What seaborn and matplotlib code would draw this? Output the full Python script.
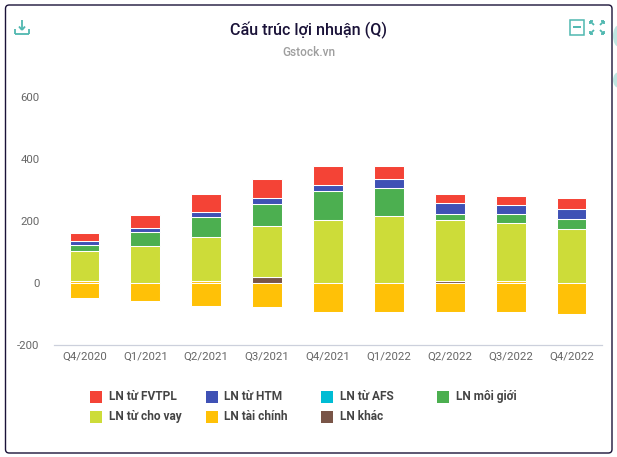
import numpy as np
import matplotlib
matplotlib.use("Agg")
import matplotlib.pyplot as plt
from matplotlib.patches import FancyBboxPatch, Rectangle, Ellipse
from matplotlib.lines import Line2D
import seaborn as sns

quarters = ["Q4/2020", "Q1/2021", "Q2/2021", "Q3/2021", "Q4/2021",
            "Q1/2022", "Q2/2022", "Q3/2022", "Q4/2022"]
ln_khac = [0, 0, 0, 18, 0, 0, 5, 0, 0]
ln_tai_chinh_duong = [5, 0, 5, 0, 0, 0, 0, 5, 0]
ln_cho_vay = [98, 120, 141, 164, 204, 214, 196, 188, 174]
ln_moi_gioi = [18, 44, 67, 73, 93, 92, 21, 29, 32]
ln_afs = [0, 0, 0, 0, 0, 0, 0, 0, 0]
ln_htm = [14, 13, 16, 19, 19, 29, 36, 29, 33]
ln_fvtpl = [27, 40, 56, 62, 62, 43, 30, 28, 33]
ln_tai_chinh_am = [-49, -60, -76, -80, -96, -96, -96, -96, -102]
y_ticks = [-200, 0, 200, 400, 600]

RED, BLUE, CYAN, GREEN = "#f44336", "#3f51b5", "#00bcd4", "#4caf50"
LIME, YELLOW, BROWN = "#cddc39", "#ffc107", "#795548"
TEAL = "#4fb8b0"

sns.set_theme(style="white")
plt.rcParams["font.family"] = ["Roboto", "DejaVu Sans"]
plt.rcParams["axes.unicode_minus"] = False

W, H = 617, 457
fig = plt.figure(figsize=(W / 100, H / 100), dpi=100, facecolor="white")

def fx(x):
    return x / W

def fy(y):
    return 1 - y / H

ax = fig.add_axes([fx(54), fy(344.5), (602 - 54) / W, (344.5 - 97) / H])
ax.set_facecolor("none")

stack = [(ln_khac, BROWN), (ln_tai_chinh_duong, YELLOW), (ln_cho_vay, LIME),
         (ln_moi_gioi, GREEN), (ln_afs, CYAN), (ln_htm, BLUE), (ln_fvtpl, RED)]
bottom = np.zeros(len(quarters))
for values, colour in stack:
    vals = np.array(values, dtype=float)
    if vals.any():
        sns.barplot(x=quarters, y=vals, bottom=bottom, color=colour, saturation=1,
                    width=0.49, edgecolor="white", linewidth=0.75, ax=ax)
    bottom = bottom + vals
sns.barplot(x=quarters, y=ln_tai_chinh_am, color=YELLOW, saturation=1,
            width=0.49, edgecolor="white", linewidth=0.75, ax=ax)

ax.set_xlim(-0.5, len(quarters) - 0.5)
ax.set_ylim(-200, 600)
ax.set_yticks(y_ticks)
ax.set_xlabel("")
ax.set_ylabel("")
for s in ["top", "left", "right"]:
    ax.spines[s].set_visible(False)
ax.spines["bottom"].set_color("#ccd0dc")
ax.spines["bottom"].set_linewidth(0.9)
ax.tick_params(axis="both", length=0, labelsize=8.2, labelcolor="#666666")
ax.tick_params(axis="x", pad=5.5)
ax.tick_params(axis="y", pad=10.5)
ax.grid(False)

# frame
fig.add_artist(FancyBboxPatch((fx(5.5), fy(453)), 606.5 / W, 448 / H,
                              boxstyle="round,pad=0,rounding_size=0.006",
                              transform=fig.transFigure, fill=False,
                              edgecolor="#1a1238", linewidth=1.0, mutation_aspect=W / H))
# edge circles outside the frame
for cy, rh in [(36, 11), (80, 8)]:
    fig.add_artist(Ellipse((fx(619), fy(cy)), 12 / W, 2 * rh / H, transform=fig.transFigure,
                           facecolor="#bfe6e2", edgecolor="none"))

# titles
fig.text(fx(309), fy(30), "Cấu trúc lợi nhuận (Q)", ha="center", va="center",
         fontsize=11.6, color="#1a1238", fontweight="medium")
fig.text(fx(309), fy(52), "Gstock.vn", ha="center", va="center",
         fontsize=8.6, color="#9e9e9e", fontweight="medium")

# legend
legend_items = [("LN từ FVTPL", RED, 90, 396.5), ("LN từ HTM", BLUE, 205.5, 396.5),
                ("LN từ AFS", CYAN, 321, 396.5), ("LN môi giới", GREEN, 436.5, 396.5),
                ("LN từ cho vay", LIME, 90, 416.5), ("LN tài chính", YELLOW, 205.5, 416.5),
                ("LN khác", BROWN, 321, 416.5)]
for label, colour, x, y in legend_items:
    fig.add_artist(Rectangle((fx(x), fy(y + 6)), 12 / W, 12 / H, transform=fig.transFigure,
                             facecolor=colour, edgecolor="none"))
    fig.text(fx(x + 19), fy(y), label, ha="left", va="center", fontsize=8.6,
             color="#444444", fontweight="bold")

def seg(x0, y0, x1, y1, lw=1.3):
    fig.add_artist(Line2D([fx(x0), fx(x1)], [fy(y0), fy(y1)], transform=fig.transFigure,
                          color=TEAL, linewidth=lw, solid_capstyle="butt"))

# download icon
seg(22, 20, 22, 29)
seg(19, 26.5, 22, 30)
seg(25, 26.5, 22, 30)
seg(15, 29, 15, 33.5)
seg(29, 29, 29, 33.5)
seg(15, 33.5, 29, 33.5)
# minimise icon
fig.add_artist(Rectangle((fx(570), fy(34.5)), 14 / W, 14.5 / H, transform=fig.transFigure,
                         fill=False, edgecolor=TEAL, linewidth=1.1))
seg(573, 27, 581, 27, 1.4)
# fullscreen icon
for (x, y, dx, dy) in [(590, 21, 1, 1), (604, 21, -1, 1), (590, 34, 1, -1), (604, 34, -1, -1)]:
    seg(x, y, x + 4 * dx, y + 4 * dy, 1.3)
    seg(x, y, x + 3 * dx, y, 1.3)
    seg(x, y, x, y + 3 * dy, 1.3)

fig.savefig("out.png", dpi=100, facecolor="white")
